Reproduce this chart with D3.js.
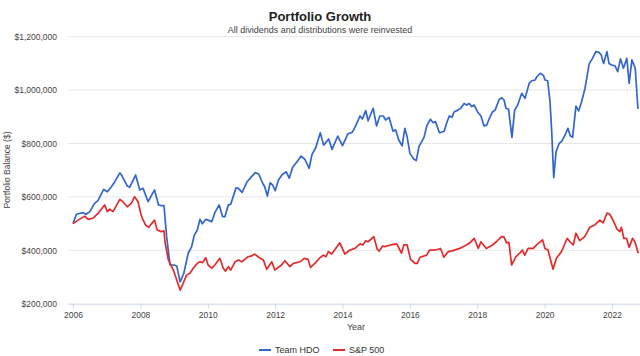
<!DOCTYPE html>
<html><head><meta charset="utf-8">
<script src="https://cdn.jsdelivr.net/npm/d3@7"></script>
<style>
html,body{margin:0;padding:0;background:#fff;}
svg{display:block;font-family:"Liberation Sans",Arial,sans-serif;}
</style></head>
<body><svg id="chart" width="640" height="356"></svg>
<script>
const yearTicks = [2006,2008,2010,2012,2014,2016,2018,2020,2022];
const valueTicks = [200000,400000,600000,800000,1000000,1200000];
const seriesNames = ["Team HDO","S&P 500"];

// Team HDO: [decimal year, balance in $ thousands]
const hdoPoints = [
[2006.00,500],[2006.10,535],[2006.30,541],[2006.39,535],[2006.50,545],[2006.64,576],[2006.74,586],[2006.91,628],
[2007.02,619],[2007.14,638],[2007.24,657],[2007.39,690],[2007.45,680],[2007.61,641],[2007.68,636],[2007.86,682],
[2007.98,626],[2008.08,632],[2008.23,582],[2008.42,626],[2008.54,570],[2008.63,567],[2008.70,567],[2008.78,451],
[2008.88,345],[2009.00,345],[2009.08,341],[2009.18,282],[2009.29,314],[2009.42,389],[2009.52,413],[2009.60,457],
[2009.69,476],[2009.77,516],[2009.84,499],[2009.94,516],[2010.01,513],[2010.12,507],[2010.21,541],[2010.34,570],
[2010.44,526],[2010.51,526],[2010.61,570],[2010.68,572],[2010.84,634],[2010.91,632],[2011.02,617],[2011.17,657],
[2011.30,676],[2011.41,691],[2011.51,686],[2011.63,651],[2011.69,638],[2011.77,603],[2011.85,653],[2011.93,644],
[2012.00,623],[2012.10,663],[2012.20,682],[2012.33,694],[2012.42,670],[2012.52,711],[2012.65,732],[2012.77,753],
[2012.88,741],[2013.01,707],[2013.09,757],[2013.21,786],[2013.34,840],[2013.44,794],[2013.59,817],[2013.69,778],
[2013.86,828],[2014.00,792],[2014.16,836],[2014.29,842],[2014.39,866],[2014.52,903],[2014.59,892],[2014.69,923],
[2014.76,885],[2014.91,932],[2015.01,866],[2015.11,903],[2015.21,903],[2015.28,888],[2015.38,898],[2015.50,846],
[2015.58,851],[2015.67,813],[2015.77,791],[2015.85,857],[2015.92,825],[2016.00,763],[2016.12,741],[2016.19,736],
[2016.27,788],[2016.42,823],[2016.51,869],[2016.61,891],[2016.69,878],[2016.76,882],[2016.86,846],[2016.89,840],
[2017.02,846],[2017.09,876],[2017.17,903],[2017.25,898],[2017.31,918],[2017.42,925],[2017.51,932],[2017.61,950],
[2017.69,944],[2017.76,950],[2017.84,938],[2017.91,944],[2018.01,918],[2018.11,903],[2018.20,866],[2018.28,869],
[2018.35,891],[2018.45,918],[2018.53,925],[2018.65,965],[2018.73,971],[2018.80,962],[2018.85,932],[2018.93,928],
[2019.03,823],[2019.11,925],[2019.20,944],[2019.32,988],[2019.42,969],[2019.54,1025],[2019.62,1035],[2019.72,1038],
[2019.77,1050],[2019.87,1063],[2019.97,1054],[2020.01,1038],[2020.09,1035],[2020.16,957],[2020.21,846],[2020.27,672],
[2020.34,769],[2020.43,800],[2020.51,809],[2020.61,832],[2020.69,857],[2020.76,829],[2020.83,823],[2020.93,940],
[2021.01,922],[2021.10,957],[2021.20,1007],[2021.32,1097],[2021.42,1119],[2021.52,1144],[2021.60,1142],[2021.68,1132],
[2021.75,1100],[2021.85,1144],[2021.91,1100],[2021.99,1094],[2022.09,1091],[2022.17,1069],[2022.25,1117],[2022.34,1082],
[2022.44,1119],[2022.51,1025],[2022.59,1113],[2022.69,1082],[2022.77,929]
];

// S&P 500: [decimal year, balance in $ thousands]
const spPoints = [
[2006.00,500],[2006.15,513],[2006.35,528],[2006.45,516],[2006.59,520],[2006.74,538],[2006.94,570],[2007.02,545],
[2007.09,554],[2007.19,545],[2007.39,591],[2007.48,582],[2007.61,563],[2007.73,576],[2007.83,601],[2007.93,582],
[2008.03,528],[2008.15,495],[2008.25,486],[2008.34,501],[2008.42,513],[2008.50,476],[2008.62,470],[2008.70,473],
[2008.73,432],[2008.83,364],[2008.98,326],[2009.08,289],[2009.18,251],[2009.27,276],[2009.37,307],[2009.47,314],
[2009.57,333],[2009.69,351],[2009.77,357],[2009.85,354],[2009.94,372],[2010.01,345],[2010.12,333],[2010.21,345],
[2010.36,370],[2010.46,333],[2010.53,322],[2010.61,339],[2010.68,326],[2010.81,357],[2010.91,364],[2011.01,357],
[2011.10,366],[2011.20,376],[2011.30,379],[2011.40,386],[2011.51,374],[2011.65,364],[2011.75,329],[2011.90,357],
[2011.99,326],[2012.19,345],[2012.29,361],[2012.44,339],[2012.54,351],[2012.74,357],[2012.86,370],[2012.98,366],
[2013.05,336],[2013.18,351],[2013.33,372],[2013.43,382],[2013.51,376],[2013.58,395],[2013.68,386],[2013.92,428],
[2014.07,386],[2014.22,401],[2014.37,407],[2014.52,424],[2014.60,420],[2014.69,436],[2014.76,432],[2014.93,451],
[2015.03,404],[2015.09,397],[2015.19,416],[2015.26,414],[2015.43,420],[2015.61,424],[2015.75,389],[2015.82,420],
[2015.92,420],[2016.02,366],[2016.15,351],[2016.22,351],[2016.30,374],[2016.50,382],[2016.59,401],[2016.74,401],
[2016.84,404],[2016.91,407],[2017.01,374],[2017.14,395],[2017.28,399],[2017.48,407],[2017.68,420],[2017.78,428],
[2017.91,445],[2018.03,407],[2018.11,432],[2018.27,407],[2018.45,420],[2018.57,432],[2018.72,451],[2018.79,450],
[2018.87,428],[2018.94,430],[2019.02,345],[2019.15,376],[2019.26,389],[2019.34,401],[2019.41,382],[2019.51,407],
[2019.66,407],[2019.76,420],[2019.94,439],[2020.01,407],[2020.10,401],[2020.25,329],[2020.35,370],[2020.50,395],
[2020.67,445],[2020.75,432],[2020.85,420],[2020.93,464],[2021.04,436],[2021.19,451],[2021.34,486],[2021.49,495],
[2021.64,513],[2021.74,503],[2021.85,539],[2021.93,536],[2022.03,513],[2022.15,479],[2022.23,470],[2022.28,486],
[2022.35,445],[2022.43,445],[2022.51,411],[2022.61,445],[2022.68,432],[2022.78,389]
];

const colors = ["#3366cc","#e32b2b"];

const svg = d3.select("#chart");
const plotLeft = 68, plotRight = 640, plotTop = 36.7, plotBottom = 303.7;

const x = d3.scaleLinear().domain([2006, 2022]).range([73, 612]);
const y = d3.scaleLinear().domain([200000, 1200000]).range([plotBottom, plotTop]);

// gridlines
svg.append("g").selectAll("line").data(valueTicks.filter(v => v > 200000)).join("line")
  .attr("x1", plotLeft).attr("x2", plotRight)
  .attr("y1", d => y(d)).attr("y2", d => y(d))
  .attr("stroke", "#e6e6e6").attr("stroke-width", 1);

// y axis labels
const yAxis = d3.axisLeft(y).tickValues(valueTicks).tickSize(0).tickPadding(0)
  .tickFormat(d => "$" + d3.format(",")(d));
const yg = svg.append("g").attr("transform", `translate(57,0)`).call(yAxis);
yg.select(".domain").remove();
yg.selectAll("text").attr("fill", "#444").attr("font-size", "8.5px")
  .attr("font-family", "'Liberation Sans',Arial,sans-serif");

// x axis
const xAxis = d3.axisBottom(x).tickValues(yearTicks).tickFormat(d3.format("d")).tickSize(5).tickPadding(3);
const xg = svg.append("g").attr("transform", `translate(0,${plotBottom})`).call(xAxis);
xg.select(".domain").attr("d", `M${plotLeft},0.5H${plotRight}`).attr("stroke", "#ccd6eb");
xg.selectAll(".tick line").attr("stroke", "#ccd6eb");
xg.selectAll("text").attr("fill", "#444").attr("font-size", "8.5px")
  .attr("font-family", "'Liberation Sans',Arial,sans-serif");

// lines
const line = d3.line().x(d => x(d[0])).y(d => y(d[1] * 1000));
[hdoPoints, spPoints].forEach((pts, i) => {
  svg.append("path").datum(pts)
    .attr("fill", "none").attr("stroke", colors[i]).attr("stroke-width", 1.7)
    .attr("stroke-linejoin", "round").attr("d", line);
});

// titles
svg.append("text").attr("x", 320).attr("y", 21).attr("text-anchor", "middle")
  .attr("font-size", "13px").attr("font-weight", "bold").attr("fill", "#222")
  .text("Portfolio Growth");
svg.append("text").attr("x", 320).attr("y", 33).attr("text-anchor", "middle")
  .attr("font-size", "9px").attr("fill", "#444")
  .text("All dividends and distributions were reinvested");

svg.append("text").attr("transform", `translate(10,170) rotate(-90)`).attr("text-anchor", "middle")
  .attr("font-size", "8.5px").attr("fill", "#444").text("Portfolio Balance ($)");
svg.append("text").attr("x", 356).attr("y", 330).attr("text-anchor", "middle")
  .attr("font-size", "9px").attr("fill", "#444").text("Year");

// legend
const legendX = [259, 333];
seriesNames.forEach((name, i) => {
  const g = svg.append("g").attr("transform", `translate(${legendX[i]},350)`);
  g.append("line").attr("x1", 0).attr("x2", 12).attr("y1", 0).attr("y2", 0)
    .attr("stroke", colors[i]).attr("stroke-width", 2);
  g.append("text").attr("x", 16).attr("y", 3.3).attr("font-size", "9px").attr("fill", "#333").text(name);
});
</script>
</body></html>
